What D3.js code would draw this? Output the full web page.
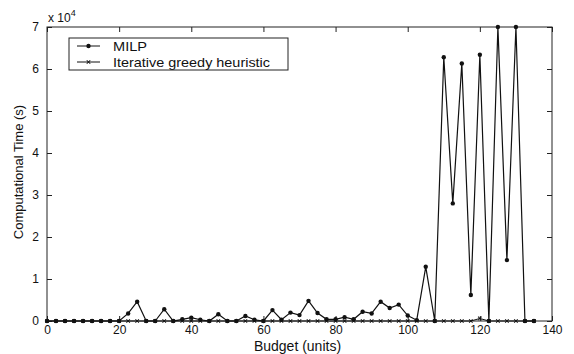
<!DOCTYPE html>
<html>
<head>
<meta charset="utf-8">
<script src="https://cdn.jsdelivr.net/npm/d3@7"></script>
<style>
  body { margin: 0; background: #fff; }
  svg text { font-family: "Liberation Sans", Arial, sans-serif; fill: #111; }
</style>
</head>
<body>
<div id="chart"></div>
<script>
// Budget values (units) shared by both series
const budget = [0, 2.5, 5, 7.5, 10, 12.5, 15, 17.5, 20, 22.5, 25, 27.5, 30, 32.5, 35, 37.5,
    40, 42.5, 45, 47.5, 50, 52.5, 55, 57.5, 60, 62.5, 65, 67.5, 70, 72.5, 75, 77.5, 80, 82.5,
    85, 87.5, 90, 92.5, 95, 97.5, 100, 102.5, 105, 107.5, 110, 112.5, 115, 117.5, 120, 122.5,
    125, 127.5, 130, 132.5, 135];

// Computational time (s)
const milp = [0, 0, 0, 0, 0, 0, 0, 0, 0, 1800, 4600, 0, 0, 2800, 0, 400,
    800, 300, 0, 1600, 0, 0, 1200, 300, 0, 2600, 300, 2000, 1400, 4800, 1900, 400, 400, 900,
    400, 2200, 1800, 4600, 3100, 3900, 1300, 200, 12900, 0, 62800, 28000, 61300, 6200, 63400, 0,
    70000, 14500, 70000, 0, 0];

const greedy = [0, 0, 0, 0, 0, 0, 0, 0, 0, 0, 0, 0, 0, 0, 0, 0,
    0, 0, 0, 0, 0, 0, 0, 0, 0, 0, 0, 0, 0, 0, 0, 0, 0, 0,
    0, 0, 0, 0, 0, 0, 0, 0, 0, 0, 0, 0, 0, 0, 600, 0,
    0, 0, 0, 0, 0];

const xTicks = [0, 20, 40, 60, 80, 100, 120, 140];
const yTicks = [0, 1, 2, 3, 4, 5, 6, 7];
const seriesNames = ["MILP", "Iterative greedy heuristic"];

const width = 574, height = 354;
const margin = {top: 27, right: 22, bottom: 33, left: 47};
const innerWidth = width - margin.left - margin.right;
const innerHeight = height - margin.top - margin.bottom;

const svg = d3.select("#chart").append("svg")
    .attr("width", width)
    .attr("height", height);

const x = d3.scaleLinear().domain([0, 140]).range([0, innerWidth]);
const y = d3.scaleLinear().domain([0, 70000]).range([innerHeight, 0]);

const g = svg.append("g")
    .attr("transform", `translate(${margin.left},${margin.top})`);

// Axes, MATLAB style: ticks pointing inward, on all four sides
const tickLen = 5;
g.append("g")
    .attr("transform", `translate(0,${innerHeight})`)
    .call(d3.axisBottom(x).tickValues(xTicks).tickSize(-tickLen).tickPadding(4))
    .call(a => a.select(".domain").remove());
g.append("g")
    .call(d3.axisTop(x).tickValues(xTicks).tickSize(-tickLen))
    .call(a => a.select(".domain").remove())
    .call(a => a.selectAll("text").remove());
g.append("g")
    .call(d3.axisLeft(y).tickValues(yTicks.map(d => d * 1e4)).tickSize(-tickLen).tickPadding(8)
        .tickFormat(d => d / 1e4))
    .call(a => a.select(".domain").remove());
g.append("g")
    .attr("transform", `translate(${innerWidth},0)`)
    .call(d3.axisRight(y).tickValues(yTicks.map(d => d * 1e4)).tickSize(-tickLen))
    .call(a => a.select(".domain").remove())
    .call(a => a.selectAll("text").remove());

g.selectAll(".tick line").attr("stroke", "#222");
g.selectAll(".tick text").attr("font-size", 12).attr("fill", "#111");

// Box
g.append("rect")
    .attr("width", innerWidth)
    .attr("height", innerHeight)
    .attr("fill", "none")
    .attr("stroke", "#222")
    .attr("stroke-width", 1);

// Multiplier
const mult = svg.append("text")
    .attr("x", margin.left + 1)
    .attr("y", margin.top - 5)
    .attr("font-size", 12);
mult.append("tspan").text("x 10");
mult.append("tspan").attr("dy", -6).attr("font-size", 9).text("4");

// Labels
svg.append("text")
    .attr("x", margin.left + innerWidth / 2 - 2)
    .attr("y", height - 3)
    .attr("text-anchor", "middle")
    .attr("font-size", 14)
    .text("Budget (units)");

svg.append("text")
    .attr("transform", `translate(23,${margin.top + innerHeight / 2 - 2}) rotate(-90)`)
    .attr("text-anchor", "middle")
    .attr("font-size", 13)
    .text("Computational Time (s)");

const line = d3.line()
    .x(d => x(d[0]))
    .y(d => y(d[1]));

const milpData = budget.map((b, i) => [b, milp[i]]);
const greedyData = budget.map((b, i) => [b, greedy[i]]);

// Greedy heuristic
g.append("path")
    .datum(greedyData)
    .attr("d", line)
    .attr("fill", "none")
    .attr("stroke", "#111")
    .attr("stroke-width", 1);

g.selectAll(".xmark")
    .data(greedyData)
    .enter()
    .append("path")
    .attr("class", "xmark")
    .attr("transform", d => `translate(${x(d[0])},${y(d[1])}) rotate(45)`)
    .attr("d", "M-2.5,0H2.5M0,-2.5V2.5")
    .attr("stroke", "#111")
    .attr("stroke-width", 1);

// MILP
g.append("path")
    .datum(milpData)
    .attr("d", line)
    .attr("fill", "none")
    .attr("stroke", "#111")
    .attr("stroke-width", 1.2);

g.selectAll(".dot")
    .data(milpData)
    .enter()
    .append("circle")
    .attr("class", "dot")
    .attr("cx", d => x(d[0]))
    .attr("cy", d => y(d[1]))
    .attr("r", 2.2)
    .attr("fill", "#111");

// Legend
const legendLengths = [34, 157];
const legend = svg.append("g").attr("transform", "translate(69,38)");
legend.append("rect")
    .attr("width", 219)
    .attr("height", 32)
    .attr("fill", "#fff")
    .attr("stroke", "#222");

seriesNames.forEach((name, i) => {
    const row = legend.append("g").attr("transform", `translate(0,${8 + i * 16})`);
    row.append("line")
        .attr("x1", 8).attr("x2", 31)
        .attr("stroke", "#111");
    if (i === 0) {
        row.append("circle").attr("cx", 19.5).attr("r", 2.2).attr("fill", "#111");
    } else {
        row.append("path")
            .attr("transform", "translate(19.5,0) rotate(45)")
            .attr("d", "M-2.5,0H2.5M0,-2.5V2.5")
            .attr("stroke", "#111");
    }
    row.append("text")
        .attr("x", 44)
        .attr("dy", "0.35em")
        .attr("font-size", 13)
        .attr("textLength", legendLengths[i])
        .attr("lengthAdjust", "spacingAndGlyphs")
        .text(name);
});
</script>
</body>
</html>
